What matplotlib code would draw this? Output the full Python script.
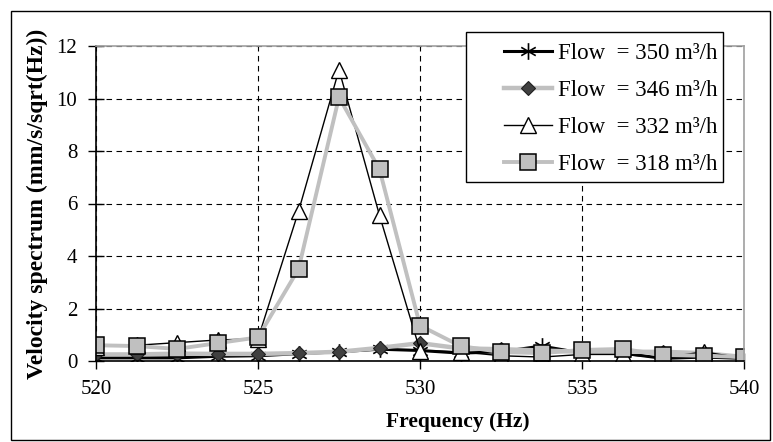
import matplotlib.pyplot as plt
from matplotlib.path import Path
from matplotlib.patches import Rectangle

plt.rcParams['font.family'] = ['Liberation Serif', 'DejaVu Serif']

freq = [520, 521.25, 522.5, 523.75, 525, 526.25, 527.5, 528.75, 530,
        531.25, 532.5, 533.75, 535, 536.25, 537.5, 538.75, 540]

flow_350 = [0.12, 0.12, 0.12, 0.18, 0.2, 0.28, 0.35, 0.45, 0.4,
            0.3, 0.35, 0.57, 0.3, 0.3, 0.1, 0.15, 0.1]
flow_346 = [0.25, 0.25, 0.28, 0.27, 0.27, 0.3, 0.35, 0.5, 0.68,
            0.48, 0.45, 0.4, 0.35, 0.35, 0.35, 0.3, 0.15]
flow_332 = [0.55, 0.6, 0.7, 0.8, 0.85, 5.7, 11.1, 5.55, 0.4,
            0.35, 0.2, 0.15, 0.25, 0.25, 0.12, 0.35, 0.1]
flow_318 = [0.6, 0.57, 0.46, 0.68, 0.9, 3.5, 10.05, 7.3, 1.35,
            0.57, 0.34, 0.3, 0.42, 0.46, 0.23, 0.2, 0.15]

labels = ["Flow  = 350 m³/h", "Flow  = 346 m³/h",
          "Flow  = 332 m³/h", "Flow  = 318 m³/h"]

# six-arm asterisk like the Excel marker
star = Path([(0, -1), (0, 1), (-0.87, -0.5), (0.87, 0.5), (-0.87, 0.5), (0.87, -0.5)],
            [Path.MOVETO, Path.LINETO, Path.MOVETO, Path.LINETO, Path.MOVETO, Path.LINETO])

fig = plt.figure(figsize=(7.73, 4.42), dpi=100)
ax = fig.add_axes([96 / 773, 1 - 361 / 442, 648 / 773, 315 / 442])

ax.plot(freq, flow_350, color="black", lw=2.2, marker=star, ms=12,
        mec="black", mew=1.2, mfc="none", label=labels[0])
ax.plot(freq, flow_346, color="#c0c0c0", lw=3.2, marker="D", ms=7,
        mfc="#404040", mec="#202020", mew=0.8, label=labels[1])
ax.plot(freq, flow_332, color="black", lw=1.0, marker="^", ms=11,
        mfc="white", mec="black", mew=1.0, label=labels[2])
ax.plot(freq, flow_318, color="#c0c0c0", lw=2.8, marker="s", ms=11,
        mfc="#c0c0c0", mec="black", mew=1.1, label=labels[3])

ax.set_xlim(520, 540)
ax.set_ylim(0, 12)
ax.set_xticks([520, 525, 530, 535, 540])
ax.set_yticks([0, 2, 4, 6, 8, 10, 12])
ax.tick_params(direction="inout", length=11, width=1, labelsize=15,
               colors="black", pad=8)
ax.grid(True, color="black", linestyle=(0, (5, 4)), linewidth=0.8)

for s in ["left", "bottom"]:
    ax.spines[s].set_color("black")
    ax.spines[s].set_linewidth(1.2)
for s in ["top", "right"]:
    ax.spines[s].set_color("#a0a0a0")
    ax.spines[s].set_linewidth(1.2)

ax.set_ylabel("Velocity spectrum (mm/s/sqrt(Hz))", fontsize=17,
              fontweight="bold", labelpad=6)
fig.text(458 / 773, 1 - 422 / 442, "Frequency (Hz)", fontsize=15.5,
         fontweight="bold", ha="center", va="center")

# legend box drawn separately so the left padding matches
ax.add_patch(Rectangle((466 / 773, 1 - 182 / 442), 257 / 773, 150 / 442,
                       transform=fig.transFigure, facecolor="white",
                       edgecolor="black", linewidth=1.0, zorder=4.5,
                       clip_on=False))
leg = ax.legend(loc="upper left", bbox_to_anchor=(504 / 773, 1 - 43 / 442),
                bbox_transform=fig.transFigure, borderaxespad=0, borderpad=0,
                fontsize=16.5, frameon=False, handlelength=2.1,
                labelspacing=0.7, handletextpad=0.25)
leg.set_zorder(6)

fig.patches.append(Rectangle((11 / 773, 2 / 442), 759 / 773, 429 / 442,
                             transform=fig.transFigure, fill=False,
                             edgecolor="black", linewidth=1.0))

fig.savefig("out.png", dpi=100)
